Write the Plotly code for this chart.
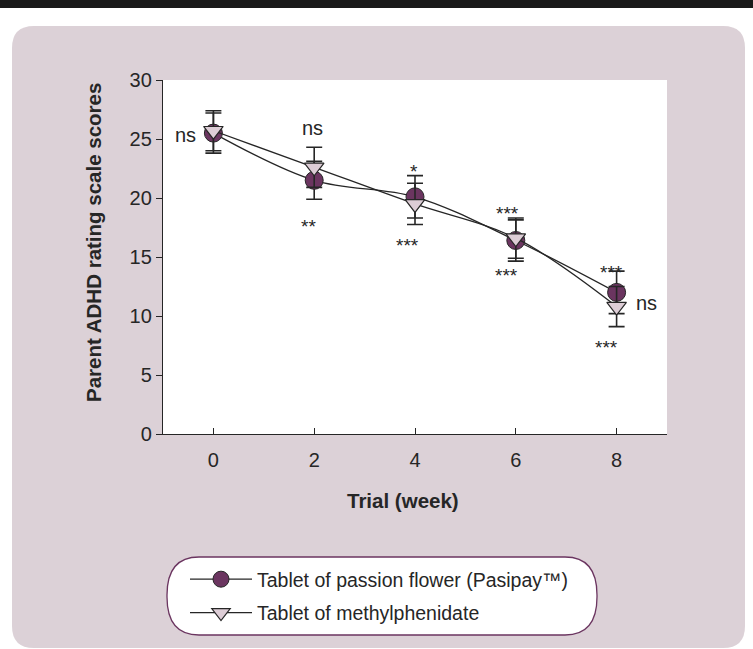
import plotly.graph_objects as go

# ---------------- data ----------------
weeks = [0, 2, 4, 6, 8]
week_ticks = [0, 2, 4, 6, 8]
y_ticks = [0, 5, 10, 15, 20, 25, 30]

passion_name = "Tablet of passion flower (Pasipay™)"
passion_mean = [25.5, 21.5, 20.1, 16.4, 12.0]
passion_err = [1.7, 1.6, 1.8, 1.75, 1.8]

methyl_name = "Tablet of methylphenidate"
methyl_mean = [25.7, 22.6, 19.5, 16.6, 10.8]
methyl_err = [1.7, 1.7, 1.75, 1.7, 1.7]

# significance labels: (text, week)
sig_labels = ["ns", "ns", "**", "*", "***", "***", "***", "***", "ns", "***"]
sig_weeks = [0, 2, 2, 4, 4, 6, 6, 8, 8, 8]

# ---------------- layout geometry ----------------
W, H = 753, 649
L, R, T, B = 163, 86, 80, 215
PW, PH = W - L - R, H - T - B


def px_x(px):
    return (px - L) / PW


def px_y(py):
    return (H - B - py) / PH


def rounded_path(x0, y0, x1, y1, rx, ry):
    # pixel coords -> paper coords, rounded rectangle using quadratic curves
    X = px_x
    Y = px_y
    return (
        f"M {X(x0 + rx)},{Y(y0)} L {X(x1 - rx)},{Y(y0)} "
        f"Q {X(x1)},{Y(y0)} {X(x1)},{Y(y0 + ry)} "
        f"L {X(x1)},{Y(y1 - ry)} Q {X(x1)},{Y(y1)} {X(x1 - rx)},{Y(y1)} "
        f"L {X(x0 + rx)},{Y(y1)} Q {X(x0)},{Y(y1)} {X(x0)},{Y(y1 - ry)} "
        f"L {X(x0)},{Y(y0 + ry)} Q {X(x0)},{Y(y0)} {X(x0 + rx)},{Y(y0)} Z"
    )


FONT = "Arial, 'Liberation Sans', Helvetica, sans-serif"
INK = "#262626"
PINK = "#dcd1d7"
PURPLE = "#6b3560"
TRI_FILL = "#ddcdd6"

fig = go.Figure()

fig.add_trace(go.Scatter(
    x=weeks, y=passion_mean, name=passion_name, legendgroup="a",
    mode="lines+markers",
    line=dict(color=INK, width=1.3, shape="spline", smoothing=1),
    marker=dict(symbol="circle", size=18, color=PURPLE,
                line=dict(color=INK, width=1)),
    error_y=dict(type="data", array=passion_err, visible=True,
                 color=INK, thickness=1.6, width=8),
))
fig.add_trace(go.Scatter(
    x=weeks, y=methyl_mean, name=methyl_name, legendgroup="b",
    mode="lines+markers",
    line=dict(color=INK, width=1.3, shape="spline", smoothing=1),
    marker=dict(symbol="triangle-down", size=17, color=TRI_FILL,
                line=dict(color=INK, width=1.2)),
    error_y=dict(type="data", array=methyl_err, visible=True,
                 color=INK, thickness=1.6, width=8),
))

# annotation placement (pixel shifts relative to data points)
sig_anchor = [
    ("p", -28, -2), ("m", -2, 39), ("p", -6, -46), ("p", -1, 25), ("m", -8, -42),
    ("m", -8, 25), ("p", -9, -35), ("p", -5, 20), ("m", 30, 4), ("m", -10, -41),
]
annotations = []
for txt, wk, (ser, dx, dy) in zip(sig_labels, sig_weeks, sig_anchor):
    i = weeks.index(wk)
    yv = passion_mean[i] if ser == "p" else methyl_mean[i]
    fs = 20 if txt == "ns" else 19
    annotations.append(dict(
        x=wk, y=yv, xref="x", yref="y", text=txt, showarrow=False,
        xshift=dx, yshift=dy, xanchor="center", yanchor="middle",
        font=dict(family=FONT, size=fs, color=INK),
    ))

# axis titles
annotations.append(dict(
    x=px_x(403), y=px_y(500), xref="paper", yref="paper",
    text="<b>Trial (week)</b>", showarrow=False, xanchor="center", yanchor="middle",
    font=dict(family=FONT, size=20.5, color=INK),
))
annotations.append(dict(
    x=px_x(93), y=px_y(243), xref="paper", yref="paper",
    text="<b>Parent ADHD rating scale scores</b>", showarrow=False, textangle=-90,
    xanchor="center", yanchor="middle",
    font=dict(family=FONT, size=20.5, color=INK),
))

shapes = [
    # black top bar
    dict(type="rect", xref="paper", yref="paper", x0=px_x(0), x1=px_x(W),
         y0=px_y(0), y1=px_y(8), fillcolor="#1a1a1a", line=dict(width=0), layer="below"),
    # pink panel
    dict(type="path", xref="paper", yref="paper",
         path=rounded_path(12, 26, 745, 648, 22, 22),
         fillcolor=PINK, line=dict(width=0), layer="below"),
    # white plot area
    dict(type="rect", xref="paper", yref="paper", x0=0, x1=1, y0=0, y1=1,
         fillcolor="white", line=dict(width=0), layer="below"),
    # legend pill
    dict(type="path", xref="paper", yref="paper",
         path=rounded_path(167, 557, 597, 635, 32, 38),
         fillcolor="white", line=dict(color=PURPLE, width=1.3), layer="below"),
]

fig.update_layout(
    width=W, height=H,
    margin=dict(l=L, r=R, t=T, b=B, pad=0),
    paper_bgcolor="white", plot_bgcolor="rgba(0,0,0,0)",
    font=dict(family=FONT, size=20, color=INK),
    showlegend=True,
    legend=dict(
        x=px_x(185), y=px_y(560), xanchor="left", yanchor="top",
        xref="paper", yref="paper",
        bgcolor="rgba(0,0,0,0)", borderwidth=0,
        font=dict(family=FONT, size=19.5, color=INK),
        itemwidth=62, traceorder="grouped", tracegroupgap=5,
        itemclick=False,
    ),
    xaxis=dict(
        range=[-1, 9], tickmode="array", tickvals=week_ticks,
        ticks="inside", ticklen=6, tickwidth=1.3, tickcolor=INK,
        showline=True, linecolor=INK, linewidth=1.3,
        showgrid=False, zeroline=False, ticklabelstandoff=8,
        tickfont=dict(family=FONT, size=20, color=INK),
        fixedrange=True,
    ),
    yaxis=dict(
        range=[0, 30], tickmode="array", tickvals=y_ticks,
        ticks="outside", ticklen=6, tickwidth=1.3, tickcolor=INK,
        showline=True, linecolor=INK, linewidth=1.3,
        showgrid=False, zeroline=False,
        tickfont=dict(family=FONT, size=20, color=INK),
        fixedrange=True,
    ),
    shapes=shapes,
    annotations=annotations,
)

fig.write_html(
    "out.html",
    config={"displayModeBar": False},
    post_script="document.body.style.margin='0';document.body.style.padding='0';"
                "document.body.style.overflow='hidden';",
)
